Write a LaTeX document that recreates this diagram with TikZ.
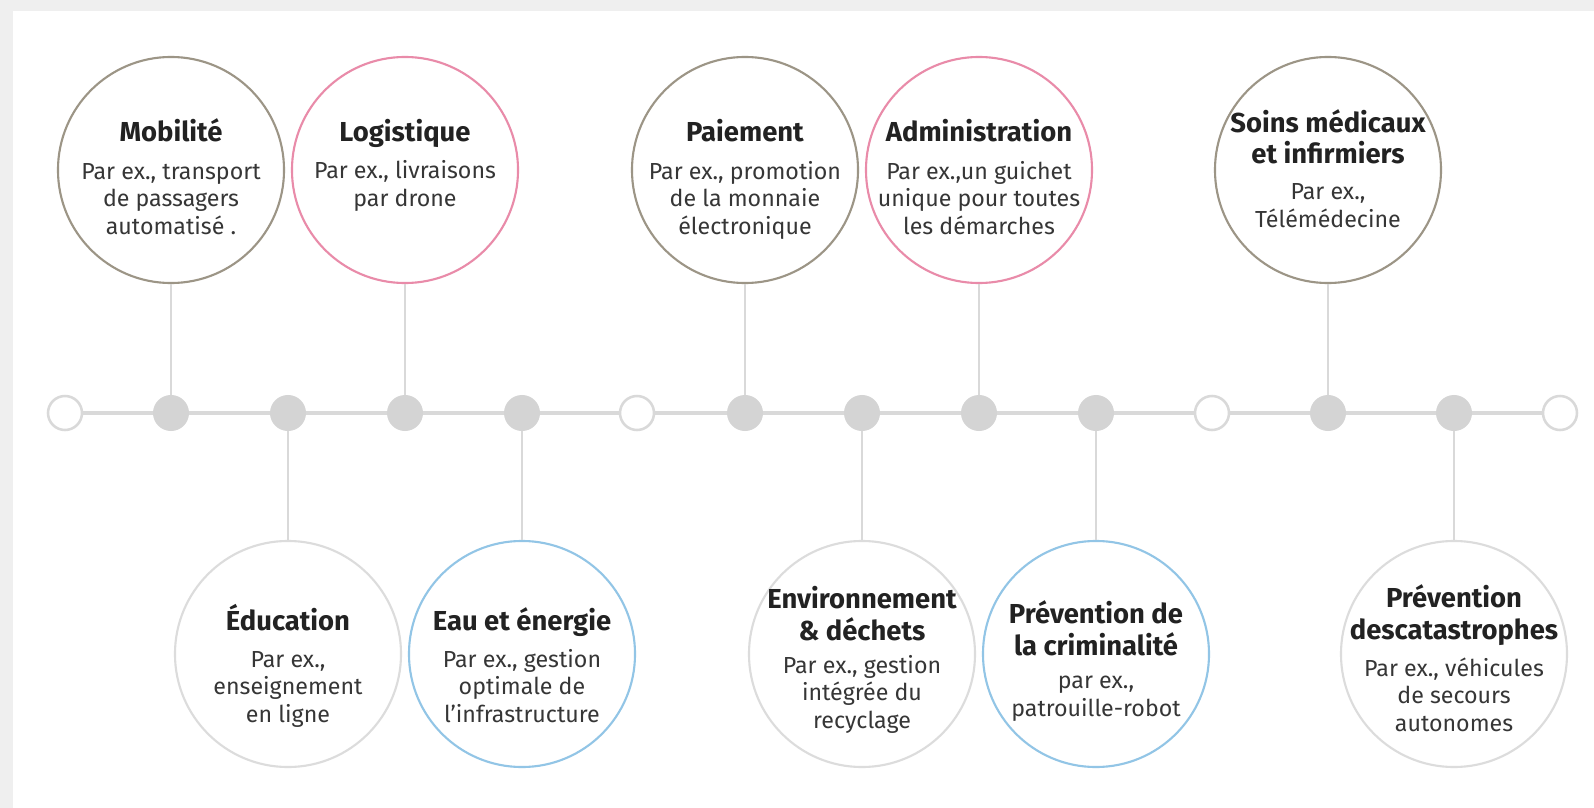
\documentclass[tikz,border=0pt]{standalone}
\usepackage{fontspec}
\setmainfont{Fira Sans}

\definecolor{framegray}{HTML}{EFEFEF}
\definecolor{brownring}{HTML}{9C9586}
\definecolor{pinkring}{HTML}{E98BA9}
\definecolor{bluering}{HTML}{92C5E6}
\definecolor{grayring}{HTML}{DCDCDC}
\definecolor{linegray}{HTML}{D9D9D9}
\definecolor{dotgray}{HTML}{D4D4D4}
\definecolor{titleink}{HTML}{222222}
\definecolor{bodyink}{HTML}{363636}

\tikzset{
  bubble/.style={circle, minimum size=5.65cm, inner sep=0pt, line width=1.5pt, fill=white},
  ttl/.style={anchor=base, align=center, text=titleink, font=\fontsize{19.5}{22.5}\selectfont\bfseries},
  txt/.style={anchor=base, align=center, text=bodyink, font=\fontsize{16.5}{19.5}\selectfont},
  dotfull/.style={circle, minimum size=0.9cm, inner sep=0pt, fill=dotgray},
  dotopen/.style={circle, minimum size=0.85cm, inner sep=0pt, draw=linegray, line width=1.8pt, fill=white},
  rail/.style={draw=linegray, line width=2.2pt},
  stem/.style={draw=linegray, line width=1.8pt}
}

\begin{document}
\begin{tikzpicture}[x=0.025cm, y=-0.025cm]
    \useasboundingbox (0,0) rectangle (1594,808);
    \fill[framegray] (0,0) rectangle (1594,808);
    \fill[white] (13,11) rectangle (1594,808);

    % upper row (text nodes sit on the baseline of their last line)
    \node[bubble, draw=brownring] (mob) at (171,170) {};
    \node[ttl] (mobt) at (171,142) {Mobilité};
    \node[txt] (mobb) at (171,234) {Par ex., transport\\de passagers\\automatisé .};

    \node[bubble, draw=pinkring] (log) at (405,170) {};
    \node[ttl] (logt) at (405,142) {Logistique};
    \node[txt] (logb) at (405,206) {Par ex., livraisons\\par drone};

    \node[bubble, draw=brownring] (pai) at (745,170) {};
    \node[ttl] (pait) at (745,142) {Paiement};
    \node[txt] (paib) at (745,234) {Par ex., promotion\\de la monnaie\\électronique};

    \node[bubble, draw=pinkring] (adm) at (979,170) {};
    \node[ttl] (admt) at (979,142) {Administration};
    \node[txt] (admb) at (979,234) {Par ex.,un guichet\\unique pour toutes\\les démarches};

    \node[bubble, draw=brownring] (soi) at (1328,170) {};
    \node[ttl] (soit) at (1328,164) {Soins médicaux\\et infirmiers};
    \node[txt] (soib) at (1328,227) {Par ex.,\\Télémédecine};

    % lower row
    \node[bubble, draw=grayring] (edu) at (288,654) {};
    \node[ttl] (edut) at (288,630) {Éducation};
    \node[txt] (edub) at (288,722) {Par ex.,\\enseignement\\en ligne};

    \node[bubble, draw=bluering] (eau) at (522,654) {};
    \node[ttl] (eaut) at (522,630) {Eau et énergie};
    \node[txt] (eaub) at (522,722) {Par ex., gestion\\optimale de\\l'infrastructure};

    \node[bubble, draw=grayring] (env) at (862,654) {};
    \node[ttl] (envt) at (862,640) {Environnement\\\& déchets};
    \node[txt] (envb) at (862,728) {Par ex., gestion\\intégrée du\\recyclage};

    \node[bubble, draw=bluering] (cri) at (1096,654) {};
    \node[ttl] (crit) at (1096,655) {Prévention de\\la criminalité};
    \node[txt] (crib) at (1096,716) {par ex.,\\patrouille-robot};

    \node[bubble, draw=grayring] (cat) at (1454,654) {};
    \node[ttl] (catt) at (1454,639) {Prévention\\descatastrophes};
    \node[txt] (catb) at (1454,731) {Par ex., véhicules\\de secours\\autonomes};

    % timeline
    \node[dotopen] (d1) at (65,413) {};
    \node[dotfull] (d2) at (171,413) {};
    \node[dotfull] (d3) at (288,413) {};
    \node[dotfull] (d4) at (405,413) {};
    \node[dotfull] (d5) at (522,413) {};
    \node[dotopen] (d6) at (637,413) {};
    \node[dotfull] (d7) at (745,413) {};
    \node[dotfull] (d8) at (862,413) {};
    \node[dotfull] (d9) at (979,413) {};
    \node[dotfull] (d10) at (1096,413) {};
    \node[dotopen] (d11) at (1212,413) {};
    \node[dotfull] (d12) at (1328,413) {};
    \node[dotfull] (d13) at (1454,413) {};
    \node[dotopen] (d14) at (1560,413) {};

    \draw[rail] (d1) -- (d2) -- (d3) -- (d4) -- (d5) -- (d6) -- (d7) -- (d8) -- (d9) -- (d10) -- (d11) -- (d12) -- (d13) -- (d14);

    \draw[stem] (mob) -- (d2);
    \draw[stem] (log) -- (d4);
    \draw[stem] (pai) -- (d7);
    \draw[stem] (adm) -- (d9);
    \draw[stem] (soi) -- (d12);

    \draw[stem] (d3) -- (edu);
    \draw[stem] (d5) -- (eau);
    \draw[stem] (d8) -- (env);
    \draw[stem] (d10) -- (cri);
    \draw[stem] (d13) -- (cat);
\end{tikzpicture}
\end{document}
